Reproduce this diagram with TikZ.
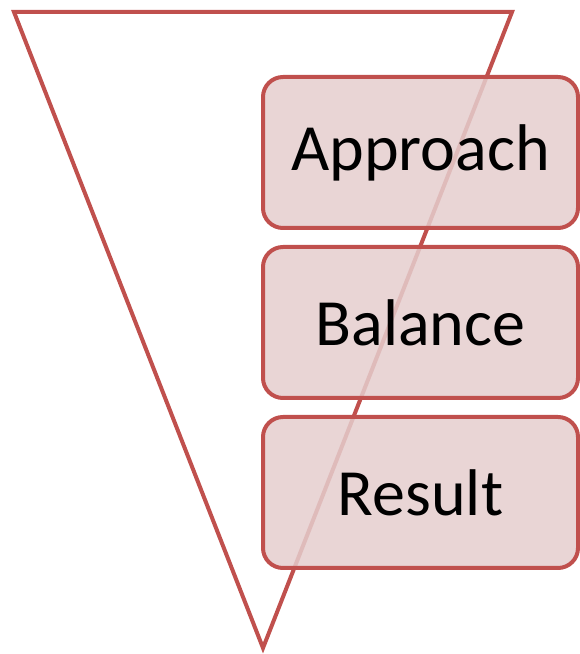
\documentclass[tikz,border=0pt]{standalone}
\usepackage{fontspec}
\setmainfont{Carlito}
\usetikzlibrary{positioning}
\definecolor{funnelred}{RGB}{192,80,77}
\definecolor{stepfill}{RGB}{229,206,206}

\begin{document}
\begin{tikzpicture}[x=1pt,y=1pt,
  stepbox/.style={rectangle, rounded corners=20pt, draw=funnelred, line width=4pt,
    fill=stepfill, fill opacity=0.85, text opacity=1,
    minimum width=315pt, minimum height=151pt, inner sep=0pt,
    font=\fontsize{66}{70}\selectfont}]
  \useasboundingbox (0,0) rectangle (579,654);
  % funnel
  \draw[funnelred, line width=4pt] (14,642) -- (512,642) -- (263,6) -- cycle;
  % steps
  \node (approach) [stepbox] at (420.5,501.5) {Approach};
  \node (balance) [stepbox, below=15pt of approach] {Balance};
  \node (result) [stepbox, below=15pt of balance] {Result};
\end{tikzpicture}
\end{document}
